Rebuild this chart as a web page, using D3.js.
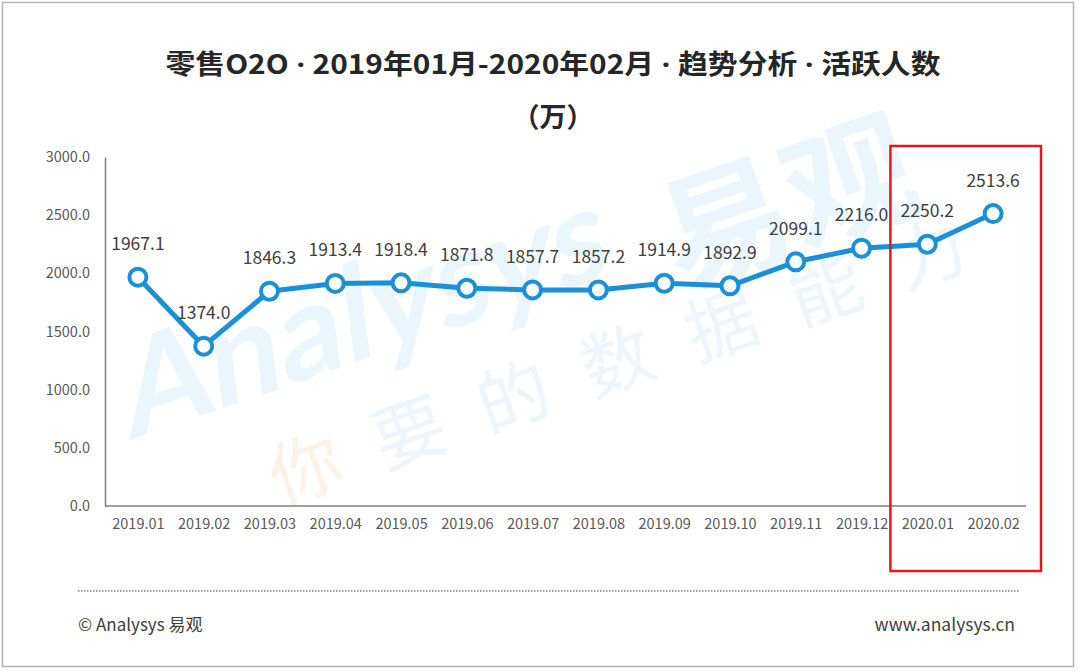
<!DOCTYPE html>
<html>
<head>
<meta charset="utf-8">
<script src="https://cdn.jsdelivr.net/npm/d3@7"></script>
<style>
  body { margin: 0; background: #fff; }
  svg { display: block; font-family: "Noto Sans CJK SC", "Noto Sans", sans-serif; }
</style>
</head>
<body>
<svg id="chart" width="1080" height="671"></svg>
<script>
// data
const months = ["2019.01", "2019.02", "2019.03", "2019.04", "2019.05", "2019.06", "2019.07",
                "2019.08", "2019.09", "2019.10", "2019.11", "2019.12", "2020.01", "2020.02"];
const activeUsers = [1967.1, 1374.0, 1846.3, 1913.4, 1918.4, 1871.8, 1857.7,
                     1857.2, 1914.9, 1892.9, 2099.1, 2216.0, 2250.2, 2513.6];
const yTicks = [0, 500, 1000, 1500, 2000, 2500, 3000];
const highlighted = ["2020.01", "2020.02"];
const titleParts = ["零售O2O", "2019年01月-2020年02月", "趋势分析", "活跃人数"];

const svg = d3.select("#chart");
const width = +svg.attr("width");
const height = +svg.attr("height");

const margin = { top: 157, right: 54, bottom: 165, left: 105 };

// outer frame
svg.append("rect")
    .attr("x", 2.5).attr("y", 2.5)
    .attr("width", 1071).attr("height", 664)
    .attr("fill", "#fff")
    .attr("stroke", "#b4b4b4")
    .attr("stroke-width", 1.5);

// faint watermark behind the plot
const wm = svg.append("g").attr("pointer-events", "none");
wm.append("text")
    .attr("transform", "translate(130,440) rotate(-19) skewX(-12)")
    .attr("font-family", "Lato, 'Noto Sans', sans-serif")
    .attr("font-size", 130)
    .attr("font-weight", "bold")
    .attr("fill", "#ebf5fc")
    .text("Analysys");
wm.append("text")
    .attr("transform", "translate(680,290) rotate(-19)")
    .attr("font-size", 130)
    .attr("font-weight", "bold")
    .attr("fill", "#ebf5fc")
    .text("易观");
const slogan = wm.append("text")
    .attr("transform", "translate(280,505) rotate(-19)")
    .attr("font-size", 72)
    .attr("letter-spacing", 38)
    .attr("fill", "#ecf6fc");
slogan.append("tspan").attr("fill", "#fdf2e6").text("你");
slogan.append("tspan").text("要的数据能力");

// title: narrow middle dots between the parts
const title = svg.append("text")
    .attr("x", 553).attr("y", 74)
    .attr("text-anchor", "middle")
    .attr("font-size", 27)
    .attr("font-weight", "bold")
    .attr("fill", "#262626")
    .attr("textLength", 775)
    .attr("lengthAdjust", "spacingAndGlyphs");
titleParts.forEach((p, i) => {
    if (i > 0) title.append("tspan").attr("font-family", "'Noto Sans', sans-serif").text(" · ");
    title.append("tspan").text(p);
});
svg.append("text")
    .attr("x", 553).attr("y", 127)
    .attr("text-anchor", "middle")
    .attr("font-size", 27)
    .attr("font-weight", "bold")
    .attr("fill", "#262626")
    .text("（万）");

// scales
const x = d3.scalePoint()
    .domain(months)
    .range([margin.left, width - margin.right])
    .padding(0.5);

const y = d3.scaleLinear()
    .domain([0, 3000])
    .range([height - margin.bottom, margin.top]);

// y axis
const yAxis = svg.append("g")
    .attr("transform", `translate(${margin.left},0)`)
    .call(d3.axisLeft(y).tickValues(yTicks).tickSize(0).tickPadding(15).tickFormat(d3.format(".1f")));
yAxis.select(".domain").attr("stroke", "#808080").attr("stroke-width", 1.5);
yAxis.selectAll("text")
    .attr("font-size", 14.5)
    .attr("fill", "#595959")
    .attr("font-family", "'Noto Sans CJK SC', sans-serif");

// x axis
const xAxis = svg.append("g")
    .attr("transform", `translate(0,${height - margin.bottom})`)
    .call(d3.axisBottom(x).tickSize(0).tickPadding(13));
xAxis.select(".domain")
    .attr("d", `M${margin.left},0H${width - margin.right}`)
    .attr("stroke", "#808080").attr("stroke-width", 1.5);
xAxis.selectAll("text")
    .attr("font-size", 14.5)
    .attr("fill", "#595959")
    .attr("font-family", "'Noto Sans CJK SC', sans-serif");

// line
const line = d3.line()
    .x((d, i) => x(months[i]))
    .y(d => y(d));

svg.append("path")
    .datum(activeUsers)
    .attr("d", line)
    .attr("fill", "none")
    .attr("stroke", "#1a90d8")
    .attr("stroke-width", 5)
    .attr("stroke-linejoin", "round");

svg.append("g")
    .selectAll("circle")
    .data(activeUsers)
    .join("circle")
    .attr("cx", (d, i) => x(months[i]))
    .attr("cy", d => y(d))
    .attr("r", 8.5)
    .attr("fill", "#fff")
    .attr("stroke", "#1a90d8")
    .attr("stroke-width", 4);

// value labels
svg.append("g")
    .selectAll("text")
    .data(activeUsers)
    .join("text")
    .attr("x", (d, i) => x(months[i]))
    .attr("y", d => y(d) - 27)
    .attr("text-anchor", "middle")
    .attr("font-size", 17.5)
    .attr("fill", "#404040")
    .text(d => d.toFixed(1));

// red highlight box around the last two months
const step = x.step();
svg.append("rect")
    .attr("x", x(highlighted[0]) - step / 2 - 4)
    .attr("y", 146)
    .attr("width", step * highlighted.length + 19)
    .attr("height", 425)
    .attr("fill", "none")
    .attr("stroke", "#e8161c")
    .attr("stroke-width", 2.5);

// footer
svg.append("line")
    .attr("x1", 78).attr("x2", 1020)
    .attr("y1", 591).attr("y2", 591)
    .attr("stroke", "#7f7f7f")
    .attr("stroke-width", 1.5)
    .attr("stroke-dasharray", "1.5,1.5");

svg.append("text")
    .attr("x", 78).attr("y", 631)
    .attr("font-size", 17)
    .attr("fill", "#404040")
    .text("© Analysys 易观");

svg.append("text")
    .attr("x", 1015).attr("y", 631)
    .attr("text-anchor", "end")
    .attr("font-size", 17.5)
    .attr("fill", "#404040")
    .text("www.analysys.cn");
</script>
</body>
</html>
